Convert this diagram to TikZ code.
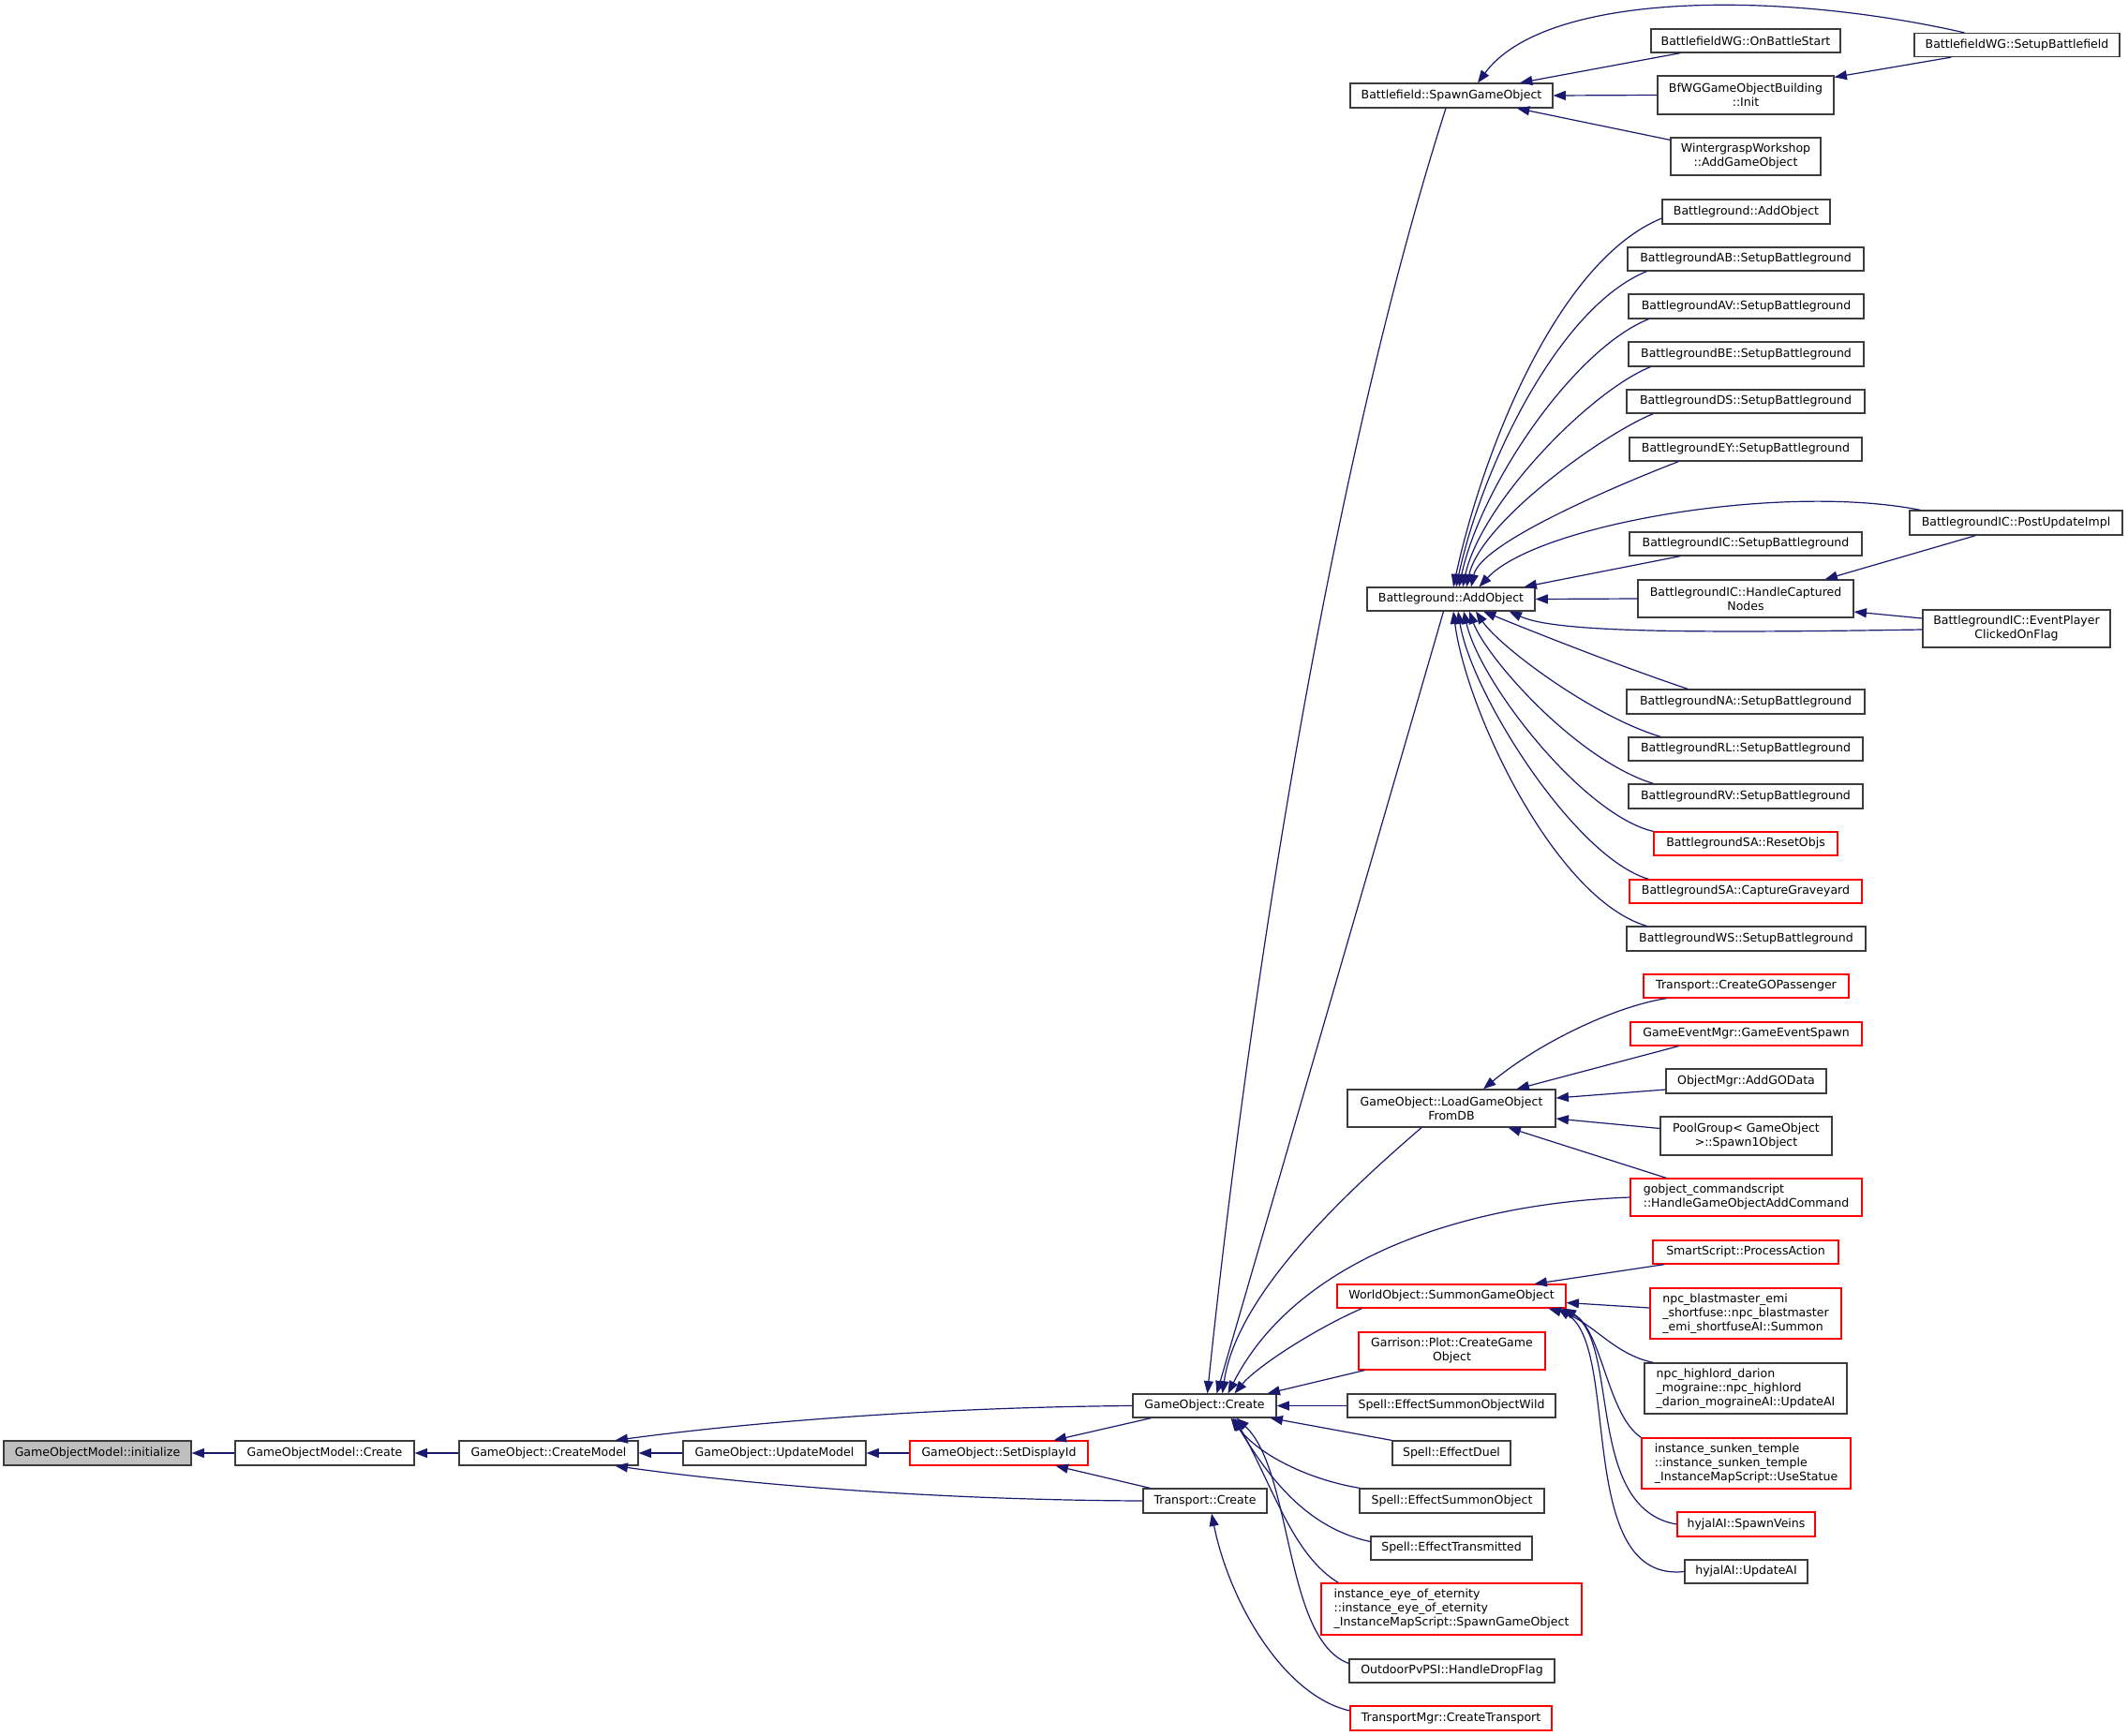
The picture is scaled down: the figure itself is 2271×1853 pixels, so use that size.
\documentclass[tikz,border=0pt]{standalone}
\usepackage{fontspec}
\setmainfont{DejaVu Sans}
\usetikzlibrary{arrows.meta,calc}
\definecolor{edgec}{RGB}{25,25,112}
\definecolor{grayfill}{RGB}{191,191,191}
\definecolor{redb}{RGB}{255,0,0}
\definecolor{borderc}{RGB}{60,60,60}
\newcommand\gfont{\fontsize{9.4pt}{11.25pt}\selectfont}
\newcommand\GN[7]{\node[#1, minimum width={#5*0.75pt}, minimum height={#6*0.75pt}] (#2) at (#3,#4) {#7};}
\tikzset{
  box/.style={draw=borderc, line width=0.9pt, fill=white, inner sep=0pt, font=\gfont, align=center},
  rbox/.style={box, draw=redb},
  lbox/.style={box, align=left},
  rlbox/.style={rbox, align=left},
  gbox/.style={box, fill=grayfill},
  ln/.style={draw=edgec, line width=0.9pt, {Triangle[length=10pt,width=7.5pt]}-},
}
\begin{document}
\begin{tikzpicture}[x=0.75pt,y=-0.75pt]
\useasboundingbox (0,0) rectangle (2271,1853);
\fill[white] (0,0) rectangle (2271,1853);
% left chain
\GN{gbox}{init}{104}{1551}{200}{26}{GameObjectModel::initialize}
\GN{box}{gomc}{346.5}{1551}{191}{26}{GameObjectModel::Create}
\GN{box}{cm}{585.5}{1551}{191}{26}{GameObject::CreateModel}
\GN{box}{um}{826.5}{1551}{195}{26}{GameObject::UpdateModel}
\GN{rbox}{sdi}{1066}{1551}{190}{26}{GameObject::SetDisplayId}
\GN{box}{goc}{1285.5}{1500.5}{153}{25}{GameObject::Create}
\GN{box}{tc}{1286}{1602}{132}{26}{Transport::Create}
% top
\GN{box}{bsgo}{1549}{102}{216}{26}{Battlefield::SpawnGameObject}
\GN{box}{obs}{1863}{43.5}{202}{25}{BattlefieldWG::OnBattleStart}
\GN{box}{sbf}{2152.5}{48}{219}{25}{BattlefieldWG::SetupBattlefield}
\GN{box}{bfi}{1863}{101.5}{188}{41}{BfWGGameObjectBuilding\\::Init}
\GN{box}{wwa}{1863}{167}{160}{40}{WintergraspWorkshop\\::AddGameObject}
% battleground
\GN{box}{bao}{1863.5}{226}{179}{26}{Battleground::AddObject}
\GN{box}{ab}{1863}{276.5}{252}{25}{BattlegroundAB::SetupBattleground}
\GN{box}{av}{1863.5}{327}{251}{26}{BattlegroundAV::SetupBattleground}
\GN{box}{be}{1863.5}{378}{251}{26}{BattlegroundBE::SetupBattleground}
\GN{box}{ds}{1863}{428.5}{254}{25}{BattlegroundDS::SetupBattleground}
\GN{box}{ey}{1863}{479.5}{248}{25}{BattlegroundEY::SetupBattleground}
\GN{box}{pui}{2151.5}{558}{227}{26}{BattlegroundIC::PostUpdateImpl}
\GN{box}{ics}{1863}{580.5}{248}{25}{BattlegroundIC::SetupBattleground}
\GN{box}{ao}{1548.5}{639.5}{179}{25}{Battleground::AddObject}
\GN{box}{hcn}{1863}{639}{230}{40}{BattlegroundIC::HandleCaptured\\Nodes}
\GN{box}{epc}{2152}{671}{200}{40}{BattlegroundIC::EventPlayer\\ClickedOnFlag}
\GN{box}{na}{1863}{749}{254}{26}{BattlegroundNA::SetupBattleground}
\GN{box}{rl}{1863}{799.5}{250}{25}{BattlegroundRL::SetupBattleground}
\GN{box}{rv}{1863}{850}{250}{26}{BattlegroundRV::SetupBattleground}
\GN{rbox}{sro}{1863}{900.5}{196}{25}{BattlegroundSA::ResetObjs}
\GN{rbox}{scg}{1863}{951.5}{248}{25}{BattlegroundSA::CaptureGraveyard}
\GN{box}{ws}{1863.5}{1002}{255}{26}{BattlegroundWS::SetupBattleground}
% load from db
\GN{box}{lgo}{1549}{1183}{222}{40}{GameObject::LoadGameObject\\FromDB}
\GN{rbox}{cgp}{1863.5}{1052.5}{219}{25}{Transport::CreateGOPassenger}
\GN{rbox}{ges}{1863.5}{1103.5}{247}{25}{GameEventMgr::GameEventSpawn}
\GN{box}{agd}{1863.5}{1154}{171}{26}{ObjectMgr::AddGOData}
\GN{box}{pg}{1863.5}{1212.5}{183}{41}{PoolGroup< GameObject\\{}>::Spawn1Object}
\GN{rlbox}{gcs}{1863.5}{1278}{247}{40}{gobject\_commandscript\\::HandleGameObjectAddCommand}
% summon
\GN{rbox}{spa}{1863}{1336.5}{198}{25}{SmartScript::ProcessAction}
\GN{rbox}{wsg}{1549}{1383.5}{244}{25}{WorldObject::SummonGameObject}
\GN{rlbox}{nbe}{1863}{1402}{204}{54}{npc\_blastmaster\_emi\\\_shortfuse::npc\_blastmaster\\\_emi\_shortfuseAI::Summon}
\GN{rbox}{gpc}{1549.5}{1442}{199}{40}{Garrison::Plot::CreateGame\\Object}
\GN{lbox}{nhd}{1863}{1482}{216}{54}{npc\_highlord\_darion\\\_mograine::npc\_highlord\\\_darion\_mograineAI::UpdateAI}
\GN{box}{esow}{1549}{1500.5}{222}{25}{Spell::EffectSummonObjectWild}
\GN{rlbox}{ist}{1863.5}{1562}{223}{54}{instance\_sunken\_temple\\::instance\_sunken\_temple\\\_InstanceMapScript::UseStatue}
\GN{box}{ed}{1549}{1551}{126}{26}{Spell::EffectDuel}
\GN{box}{eso}{1549.5}{1602}{197}{26}{Spell::EffectSummonObject}
\GN{rbox}{hsv}{1863.5}{1627}{147}{26}{hyjalAI::SpawnVeins}
\GN{box}{et}{1549}{1652.5}{172}{25}{Spell::EffectTransmitted}
\GN{box}{hua}{1863.5}{1677.5}{131}{25}{hyjalAI::UpdateAI}
\GN{rlbox}{iee}{1549}{1717.5}{278}{55}{instance\_eye\_of\_eternity\\::instance\_eye\_of\_eternity\\\_InstanceMapScript::SpawnGameObject}
\GN{box}{odf}{1549.5}{1783.5}{219}{25}{OutdoorPvPSI::HandleDropFlag}
\GN{rbox}{tmc}{1548.5}{1834}{215}{26}{TransportMgr::CreateTransport}
% ---- edges: left chain
\draw[ln] (init.east) -- (gomc.west);
\draw[ln] (gomc.east) -- (cm.west);
\draw[ln] (cm.east) -- (um.west);
\draw[ln] (um.east) -- (sdi.west);
\draw[ln] ($(cm.north east)+(-25,0)$) .. controls (800,1518) and (1000,1502) .. (goc.west);
\draw[ln] ($(cm.south east)+(-25,0)$) .. controls (800,1585) and (1000,1601) .. (tc.west);
\draw[ln] ($(sdi.north east)+(-37,0)$) -- ($(goc.south west)+(20,0)$);
\draw[ln] ($(sdi.south east)+(-35,0)$) -- ($(tc.north west)+(8,0)$);
\draw[ln] ($(tc.south)+(7,0)$) .. controls (1312,1710) and (1370,1810) .. ($(tmc.west)+(0,-8)$);
% ---- callers of GameObject::Create
\draw[ln] ($(goc.north)+(3,0)$) .. controls (1330,1088) and (1415,516) .. ($(bsgo.south)+(-6,0)$);
\draw[ln] ($(goc.north)+(13,0)$) -- ($(ao.south)+(-8,0)$);
\draw[ln] ($(goc.north)+(19,0)$) .. controls (1320,1380) and (1440,1270) .. ($(lgo.south)+(-32,0)$);
\draw[ln] ($(goc.north)+(25,0)$) .. controls (1380,1350) and (1550,1285) .. (gcs.west);
\draw[ln] ($(goc.north)+(32,0)$) .. controls (1340,1460) and (1400,1420) .. ($(wsg.south west)+(27,0)$);
\draw[ln] ($(goc.north east)+(-10,0)$) -- ($(gpc.south west)+(7,0)$);
\draw[ln] (goc.east) -- (esow.west);
\draw[ln] ($(goc.south east)+(-7,0)$) -- (ed.north west);
\draw[ln] ($(goc.south)+(28,0)$) .. controls (1345,1555) and (1400,1580) .. ($(eso.north west)+(1,0)$);
\draw[ln] ($(goc.south)+(30,0)$) .. controls (1350,1570) and (1390,1630) .. ($(et.west)+(0,-7)$);
\draw[ln] ($(goc.south)+(32,0)$) .. controls (1360,1590) and (1380,1660) .. ($(iee.north west)+(19,0)$);
\draw[ln] ($(goc.south)+(34,0)$) .. controls (1380,1570) and (1370,1750) .. ($(odf.west)+(0,-8)$);
% ---- top: Battlefield
\draw[ln] ($(bsgo.north)+(28,0)$) .. controls (1650,-10) and (1900,-10) .. ($(sbf.north west)+(54,0)$);
\draw[ln] ($(bsgo.north)+(73,0)$) -- ($(obs.south west)+(32,0)$);
\draw[ln] (bsgo.east) -- (bfi.west);
\draw[ln] ($(bsgo.south)+(70,0)$) -- ($(wwa.north west)+(0,3)$);
\draw[ln] ($(bfi.north east)+(0,2)$) -- ($(sbf.south west)+(40,0)$);
% ---- callers of Battleground::AddObject (above)
\draw[ln] ($(ao.north)+(2.5,0)$) .. controls (1583,479) and (1663,278) .. ($(bao.west)+(0,7)$);
\draw[ln] ($(ao.north)+(5.5,0)$) .. controls (1581,500) and (1663,328) .. ($(ab.south west)+(21,0)$);
\draw[ln] ($(ao.north)+(8.5,0)$) .. controls (1580,519) and (1679,373) .. ($(av.south west)+(22,0)$);
\draw[ln] ($(ao.north)+(12.5,0)$) .. controls (1580,538) and (1696,418) .. ($(be.south west)+(24,0)$);
\draw[ln] ($(ao.north)+(16.5,0)$) .. controls (1580,557) and (1713,462) .. ($(ds.south west)+(29,0)$);
\draw[ln] ($(ao.north)+(21.5,0)$) .. controls (1581,576) and (1754,507) .. ($(ey.south west)+(53,0)$);
\draw[ln] ($(ao.north)+(30,0)$) .. controls (1640,560) and (1900,515) .. ($(pui.north west)+(12,0)$);
\draw[ln] ($(ao.north east)+(-12,0)$) -- ($(ics.south west)+(55,0)$);
\draw[ln] (ao.east) -- (hcn.west);
\draw[ln] ($(ao.south east)+(-28,0)$) .. controls (1660,675) and (1800,676) .. ($(epc.west)+(0,1)$);
\draw[ln] ($(hcn.north east)+(-31,0)$) -- ($(pui.south)+(-43,0)$);
\draw[ln] ($(hcn.east)+(0,14)$) -- ($(epc.west)+(0,-11)$);
% ---- callers of Battleground::AddObject (below)
\draw[ln] ($(ao.south)+(34.5,0)$) .. controls (1650,680) and (1740,715) .. ($(na.north west)+(66,0)$);
\draw[ln] ($(ao.south)+(26.5,0)$) .. controls (1600,690) and (1700,765) .. ($(rl.north west)+(35,0)$);
\draw[ln] ($(ao.south)+(19.5,0)$) .. controls (1585,700) and (1680,810) .. ($(rv.north west)+(27,0)$);
\draw[ln] ($(ao.south)+(13.5,0)$) .. controls (1580,730) and (1690,870) .. (sro.north west);
\draw[ln] ($(ao.south)+(7.5,0)$) .. controls (1570,740) and (1680,915) .. ($(scg.north west)+(21,0)$);
\draw[ln] ($(ao.south)+(2.5,0)$) .. controls (1565,760) and (1660,960) .. ($(ws.north west)+(22,0)$);
% ---- callers of LoadGameObjectFromDB
\draw[ln] ($(lgo.north)+(34,0)$) .. controls (1640,1115) and (1720,1075) .. ($(cgp.south west)+(25,0)$);
\draw[ln] ($(lgo.north east)+(-42,0)$) -- ($(ges.south west)+(52,0)$);
\draw[ln] ($(lgo.east)+(0,-11)$) -- ($(agd.west)+(0,9)$);
\draw[ln] ($(lgo.east)+(0,11)$) -- ($(pg.west)+(0,-8)$);
\draw[ln] ($(lgo.south east)+(-51,0)$) -- ($(gcs.north west)+(39,0)$);
% ---- callers of SummonGameObject
\draw[ln] ($(wsg.north east)+(-34,0)$) -- ($(spa.south west)+(13,0)$);
\draw[ln] ($(wsg.east)+(0,7)$) -- ($(nbe.west)+(0,-6)$);
\draw[ln] ($(wsg.south east)+(-19,0)$) .. controls (1700,1410) and (1720,1445) .. ($(nhd.north west)+(10,0)$);
\draw[ln] ($(wsg.south east)+(-3,0)$) .. controls (1710,1420) and (1715,1510) .. (ist.north west);
\draw[ln] ($(wsg.south east)+(-5,0)$) .. controls (1730,1430) and (1690,1610) .. (hsv.west);
\draw[ln] ($(wsg.south east)+(-9,0)$) .. controls (1730,1440) and (1680,1690) .. (hua.west);
\end{tikzpicture}
\end{document}
